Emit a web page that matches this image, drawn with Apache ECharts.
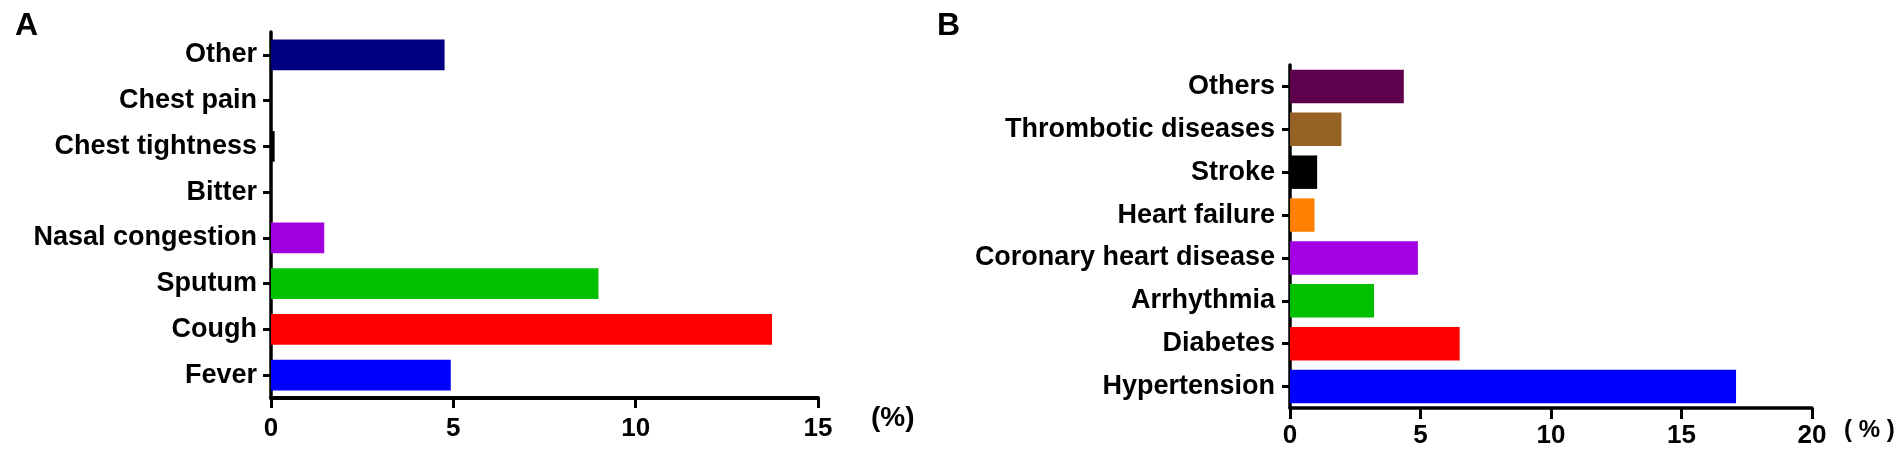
<!DOCTYPE html>
<html>
<head>
<meta charset="utf-8">
<script src="https://cdn.jsdelivr.net/npm/echarts@6/dist/echarts.min.js"></script>
<style>
html,body{margin:0;padding:0;background:#fff;}
#chart{width:1904px;height:454px;}
</style>
</head>
<body>
<div id="chart"></div>
<script>
// Panel A data (bottom to top)
const categoriesA = ['Fever', 'Cough', 'Sputum', 'Nasal congestion', 'Bitter', 'Chest tightness', 'Chest pain', 'Other'];
const valuesA = [4.93, 13.74, 8.98, 1.46, 0, 0.1, 0, 4.76];
const ticksA = [0, 5, 10, 15];

// Panel B data (bottom to top)
const categoriesB = ['Hypertension', 'Diabetes', 'Arrhythmia', 'Coronary heart disease', 'Heart failure', 'Stroke', 'Thrombotic diseases', 'Others'];
const valuesB = [17.09, 6.5, 3.22, 4.9, 0.94, 1.04, 1.97, 4.36];
const ticksB = [0, 5, 10, 15, 20];

// styles
const colorsA = ['#0000ff', '#ff0000', '#00c000', '#a000e0', '#000000', '#000000', '#000000', '#000080'];
const colorsB = ['#0000ff', '#ff0000', '#00c000', '#a400e4', '#ff8000', '#000000', '#956125', '#5e004c'];

const FONT = "'Liberation Sans', Arial, Helvetica, sans-serif";
const chart = echarts.init(document.getElementById('chart'), null, {renderer: 'canvas'});

function catAxis(idx, cats, margin) {
  return {
    type: 'category', gridIndex: idx, data: cats,
    axisLine: {show: true, lineStyle: {color: '#000', width: 3.5}},
    axisTick: {show: true, alignWithLabel: true, length: 8, lineStyle: {color: '#000', width: 3}},
    axisLabel: {color: '#000', fontFamily: FONT, fontWeight: 'bold', fontSize: 27, margin: margin},
    splitLine: {show: false}
  };
}
function valAxis(idx, max, lineW, tickLen, margin, name, nameGap, namePad, nameSize) {
  return {
    type: 'value', gridIndex: idx, min: 0, max: max, interval: 5,
    axisLine: {show: true, lineStyle: {color: '#000', width: lineW}},
    axisTick: {show: true, length: tickLen, lineStyle: {color: '#000', width: 3}},
    axisLabel: {color: '#000', fontFamily: FONT, fontWeight: 'bold', fontSize: 26, margin: margin,
      showMinLabel: true, showMaxLabel: true},
    splitLine: {show: false},
    name: name, nameLocation: 'end', nameGap: nameGap,
    nameTextStyle: {color: '#000', fontFamily: FONT, fontWeight: 'bold', fontSize: nameSize,
      align: 'left', verticalAlign: 'top', padding: namePad}
  };
}

chart.setOption({
  animation: false,
  backgroundColor: '#fff',
  title: [
    {text: 'A', left: 10, top: 5, textStyle: {fontFamily: FONT, fontWeight: 'bold', fontSize: 32, color: '#000'}},
    {text: 'B', left: 932, top: 5, textStyle: {fontFamily: FONT, fontWeight: 'bold', fontSize: 32, color: '#000'}}
  ],
  grid: [
    {left: 271, top: 32, width: 547, height: 366, containLabel: false},
    {left: 1290, top: 65, width: 522, height: 343, containLabel: false}
  ],
  xAxis: [
    valAxis(0, 15, 4, 10, 18, '(%)', 53, [6, 0, 0, 0], 28),
    valAxis(1, 20, 3.5, 11, 15, '( % )', 32, [10, 0, 0, 0], 24)
  ],
  yAxis: [
    catAxis(0, categoriesA, 14),
    catAxis(1, categoriesB, 15)
  ],
  series: [
    {
      type: 'bar', xAxisIndex: 0, yAxisIndex: 0, barWidth: '67%',
      data: valuesA.map((v, i) => ({value: v, itemStyle: {color: colorsA[i]}}))
    },
    {
      type: 'bar', xAxisIndex: 1, yAxisIndex: 1, barWidth: '78%',
      data: valuesB.map((v, i) => ({value: v, itemStyle: {color: colorsB[i]}}))
    }
  ]
});
</script>
</body>
</html>
